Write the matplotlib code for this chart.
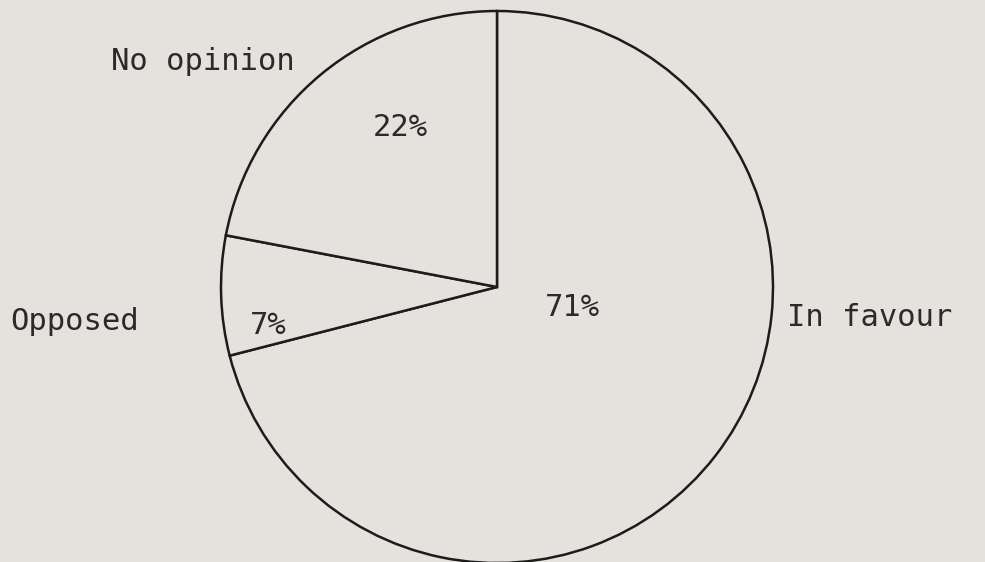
import matplotlib
matplotlib.use("Agg")
import matplotlib.pyplot as plt

# Data
categories = ["In favour", "Opposed", "No opinion"]
values = [71, 7, 22]
pct_labels = ["71%", "7%", "22%"]

# Layout (pixel coordinates in a 985x562 canvas, y pointing down)
bg = "#e5e2de"
ink = "#1c1c1c"
center = (497, 287)
radius = 276
cat_pos = [(870, 318), (75, 322), (203, 61)]
pct_pos = [(572, 307), (268, 325), (400, 127)]

fig = plt.figure(figsize=(9.85, 5.62), dpi=100)
fig.patch.set_facecolor(bg)
ax = fig.add_axes([0, 0, 1, 1])
ax.set_facecolor(bg)

# y axis is inverted, so data-counterclockwise appears clockwise on screen
wedges, _ = ax.pie(values, startangle=270, counterclock=True, center=center,
                   radius=radius, frame=True,
                   wedgeprops=dict(facecolor=bg, edgecolor=ink, linewidth=1.8))
ax.set_xlim(0, 985)
ax.set_ylim(562, 0)
ax.set_aspect("equal")
ax.axis("off")

font = dict(family="DejaVu Sans Mono", fontsize=22, color="#2a2a2a",
            ha="center", va="center")
for lab, (x, y) in zip(categories, cat_pos):
    ax.text(x, y, lab, **font)
for lab, (x, y) in zip(pct_labels, pct_pos):
    ax.text(x, y, lab, **font)

fig.savefig("out.png", dpi=100, facecolor=bg)
